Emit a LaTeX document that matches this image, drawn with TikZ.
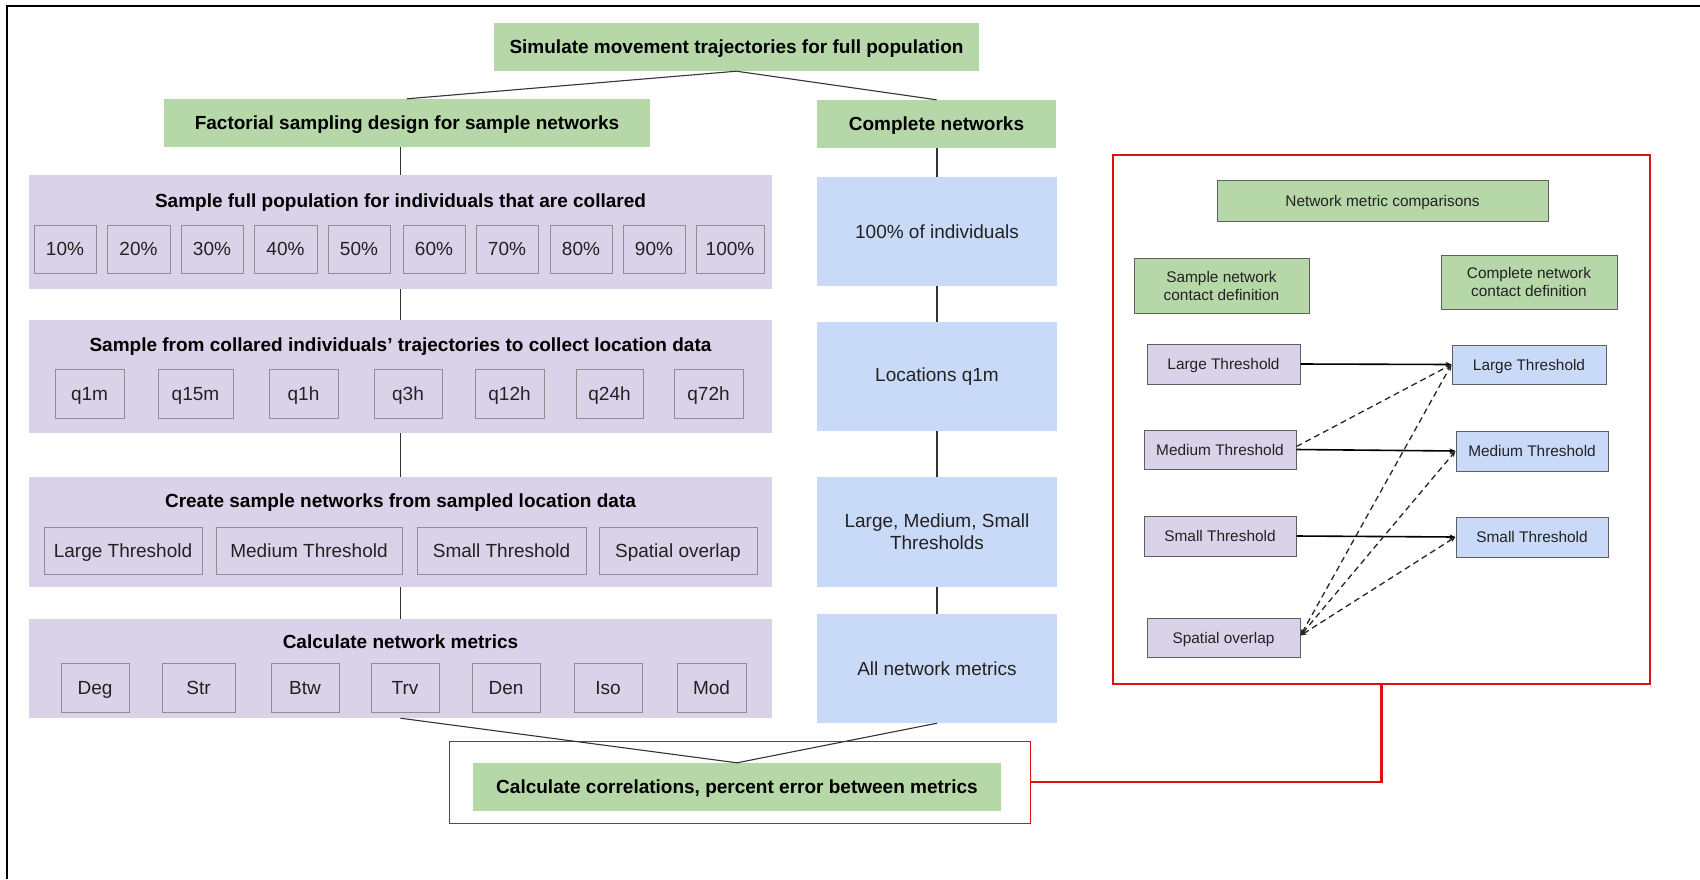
\documentclass[tikz,border=0pt]{standalone}
\usepackage{fontspec}
\setmainfont{Liberation Sans}
\usetikzlibrary{arrows.meta}

\definecolor{grn}{HTML}{B6D7A8}
\definecolor{purp}{HTML}{D9D2E9}
\definecolor{blu}{HTML}{C9DAF8}
\definecolor{cellgray}{HTML}{8E8E93}
\definecolor{panelgray}{HTML}{5F5F5F}
\definecolor{redline}{HTML}{DD1111}
\definecolor{ink}{HTML}{222222}
\definecolor{wirec}{HTML}{333333}

% box from its corners: name, style, x1, y1, x2, y2, text
\newcommand\mkbox[7]{%
  \pgfmathsetmacro\mbW{#5-#3}\pgfmathsetmacro\mbH{#6-#4}%
  \pgfmathsetmacro\mbX{(#3+#5)/2}\pgfmathsetmacro\mbY{(#4+#6)/2}%
  \node[#2, minimum width=\mbW pt, minimum height=\mbH pt] (#1) at (\mbX,\mbY) {#7};}

\tikzset{
  big/.style={font=\fontsize{19}{22}\selectfont},
  oneline/.style={text height=13.7pt, text depth=0pt},
  smallline/.style={text height=11.1pt, text depth=0pt},
  greenhead/.style={fill=grn, inner sep=0pt, oneline, font=\bfseries\fontsize{19}{22}\selectfont},
  band/.style={fill=purp, inner sep=0pt},
  bandtitle/.style={inner sep=0pt, oneline, font=\bfseries\fontsize{19}{22}\selectfont},
  bluebox/.style={fill=blu, inner sep=0pt, text=ink, big},
  bluetwo/.style={bluebox, align=center},
  cell/.style={draw=cellgray, line width=0.9pt, fill=purp, inner sep=0pt, oneline, text=ink, big},
  panel/.style={draw=panelgray, line width=1pt, inner sep=0pt, text=ink,
    font=\fontsize{15.4}{18}\selectfont},
  panelgreen/.style={panel, fill=grn},
  panelpurp/.style={panel, smallline, fill=purp},
  panelblue/.style={panel, smallline, fill=blu},
  wire/.style={draw=wirec, line width=1.1pt},
  tip/.tip={Stealth[length=6pt,width=5pt]},
  link/.style={draw=black, line width=1.6pt, -tip},
  dlink/.style={draw=black!85, line width=1.3pt, dash pattern=on 6pt off 4pt},
  redwire/.style={draw=redline, line width=2.4pt},
}

\begin{document}
\begin{tikzpicture}[x=1pt, y=-1pt]
\useasboundingbox (0,0) rectangle (1700,879);

% outer frame
\draw[line width=2.5pt, black] (7,879) -- (7,6) -- (1700,6);

% headings
\mkbox{top}{greenhead}{494}{23}{979}{71}{Simulate movement trajectories for full population}
\mkbox{fact}{greenhead}{164}{99}{650}{147}{Factorial sampling design for sample networks}
\mkbox{comp}{greenhead}{817}{100}{1056}{148}{Complete networks}

% sampling bands
\mkbox{p1}{band}{29}{175}{772}{289}{}
\mkbox{p2}{band}{29}{320}{772}{433}{}
\mkbox{p3}{band}{29}{477}{772}{587}{}
\mkbox{p4}{band}{29}{619}{772}{718}{}
\node[bandtitle] (t1) at (400.5,201) {Sample full population for individuals that are collared};
\node[bandtitle] (t2) at (400.5,345) {Sample from collared individuals’ trajectories to collect location data};
\node[bandtitle] (t3) at (400.5,501) {Create sample networks from sampled location data};
\node[bandtitle] (t4) at (400.5,642) {Calculate network metrics};

% collared percentages
\mkbox{c1}{cell}{34}{225}{96}{273}{10\%}
\mkbox{c2}{cell}{107}{225}{170}{273}{20\%}
\mkbox{c3}{cell}{181}{225}{243}{273}{30\%}
\mkbox{c4}{cell}{254}{225}{317}{273}{40\%}
\mkbox{c5}{cell}{328}{225}{390}{273}{50\%}
\mkbox{c6}{cell}{403}{225}{465}{273}{60\%}
\mkbox{c7}{cell}{476}{225}{538}{273}{70\%}
\mkbox{c8}{cell}{550}{225}{612}{273}{80\%}
\mkbox{c9}{cell}{623}{225}{685}{273}{90\%}
\mkbox{c10}{cell}{696}{225}{764}{273}{100\%}

% fix intervals
\mkbox{q1}{cell}{55}{369}{124}{418}{q1m}
\mkbox{q2}{cell}{158}{369}{233}{418}{q15m}
\mkbox{q3}{cell}{269}{369}{338}{418}{q1h}
\mkbox{q4}{cell}{374}{369}{442}{418}{q3h}
\mkbox{q5}{cell}{475}{369}{544}{418}{q12h}
\mkbox{q6}{cell}{576}{369}{643}{418}{q24h}
\mkbox{q7}{cell}{674}{369}{743}{418}{q72h}

% contact definitions
\mkbox{s1}{cell}{44}{527}{202}{574}{Large Threshold}
\mkbox{s2}{cell}{216}{527}{402}{574}{Medium Threshold}
\mkbox{s3}{cell}{417}{527}{586}{574}{Small Threshold}
\mkbox{s4}{cell}{599}{527}{757}{574}{Spatial overlap}

% metrics
\mkbox{m1}{cell}{61}{663}{129}{712}{Deg}
\mkbox{m2}{cell}{162}{663}{235}{712}{Str}
\mkbox{m3}{cell}{271}{663}{339}{712}{Btw}
\mkbox{m4}{cell}{371}{663}{439}{712}{Trv}
\mkbox{m5}{cell}{472}{663}{540}{712}{Den}
\mkbox{m6}{cell}{574}{663}{642}{712}{Iso}
\mkbox{m7}{cell}{677}{663}{746}{712}{Mod}

% complete network column
\mkbox{b1}{bluebox}{817}{177}{1057}{286}{100\% of individuals}
\mkbox{b2}{bluebox}{817}{322}{1057}{431}{Locations q1m}
\mkbox{b3}{bluetwo}{817}{477}{1057}{587}{Large, Medium, Small\\Thresholds}
\mkbox{b4}{bluebox}{817}{614}{1057}{723}{All network metrics}

% comparison step
\mkbox{calcframe}{draw=redline, line width=1pt, inner sep=0pt}{449}{741}{1030}{823}{}
\mkbox{calc}{greenhead}{473}{763}{1001}{811}{Calculate correlations, percent error between metrics}

% tree connectors
\draw[wire] (top.south) -- (fact.north);
\draw[wire] (top.south) -- (comp.north);
\draw[wire] (p1.north |- fact.south) -- (p1.north);
\draw[wire] (p1.south) -- (p2.north);
\draw[wire] (p2.south) -- (p3.north);
\draw[wire] (p3.south) -- (p4.north);
\draw[wire] (b1.north |- comp.south) -- (b1.north);
\draw[wire] (b1.south) -- (b2.north);
\draw[wire] (b2.south) -- (b3.north);
\draw[wire] (b3.south) -- (b4.north);
\draw[wire] (p4.south) -- (calc.north);
\draw[wire] (b4.south) -- (calc.north);

% metric comparison panel
\mkbox{panelframe}{draw=redline, line width=2pt, inner sep=0pt}{1113}{155}{1650}{684}{}
\mkbox{nmc}{panelgreen, smallline}{1217}{180}{1548}{221}{Network metric comparisons}
\mkbox{sdef}{panelgreen, align=center}{1134}{258}{1309}{313}{Sample network\\contact definition}
\mkbox{cdef}{panelgreen, align=center}{1441}{255}{1617}{309}{Complete network\\contact definition}
\mkbox{pL}{panelpurp}{1147}{344}{1300}{384}{Large Threshold}
\mkbox{pM}{panelpurp}{1144}{430}{1296}{469}{Medium Threshold}
\mkbox{pS}{panelpurp}{1144}{516}{1296}{556}{Small Threshold}
\mkbox{pO}{panelpurp}{1147}{618}{1300}{657}{Spatial overlap}
\mkbox{bL}{panelblue}{1452}{345}{1606}{384}{Large Threshold}
\mkbox{bM}{panelblue}{1456}{431}{1608}{471}{Medium Threshold}
\mkbox{bS}{panelblue}{1456}{517}{1608}{557}{Small Threshold}

\draw[link] (pL.east) -- (bL.west);
\draw[link] (pM.east) -- (bM.west);
\draw[link] (pS.east) -- (bS.west);
\draw[dlink, -tip] ([yshift=3pt]pM.east) -- (bL.west);
\draw[dlink, tip-tip] ([yshift=2pt]pO.east) -- (bL.west);
\draw[dlink, tip-tip] ([yshift=2pt]pO.east) -- (bM.west);
\draw[dlink, tip-tip] ([yshift=2pt]pO.east) -- (bS.west);

% panel tied to the comparison step
\coordinate (bend) at (panelframe.south |- calcframe.east);
\draw[redwire] (calcframe.east) -- (bend) -- (panelframe.south);
\end{tikzpicture}
\end{document}
